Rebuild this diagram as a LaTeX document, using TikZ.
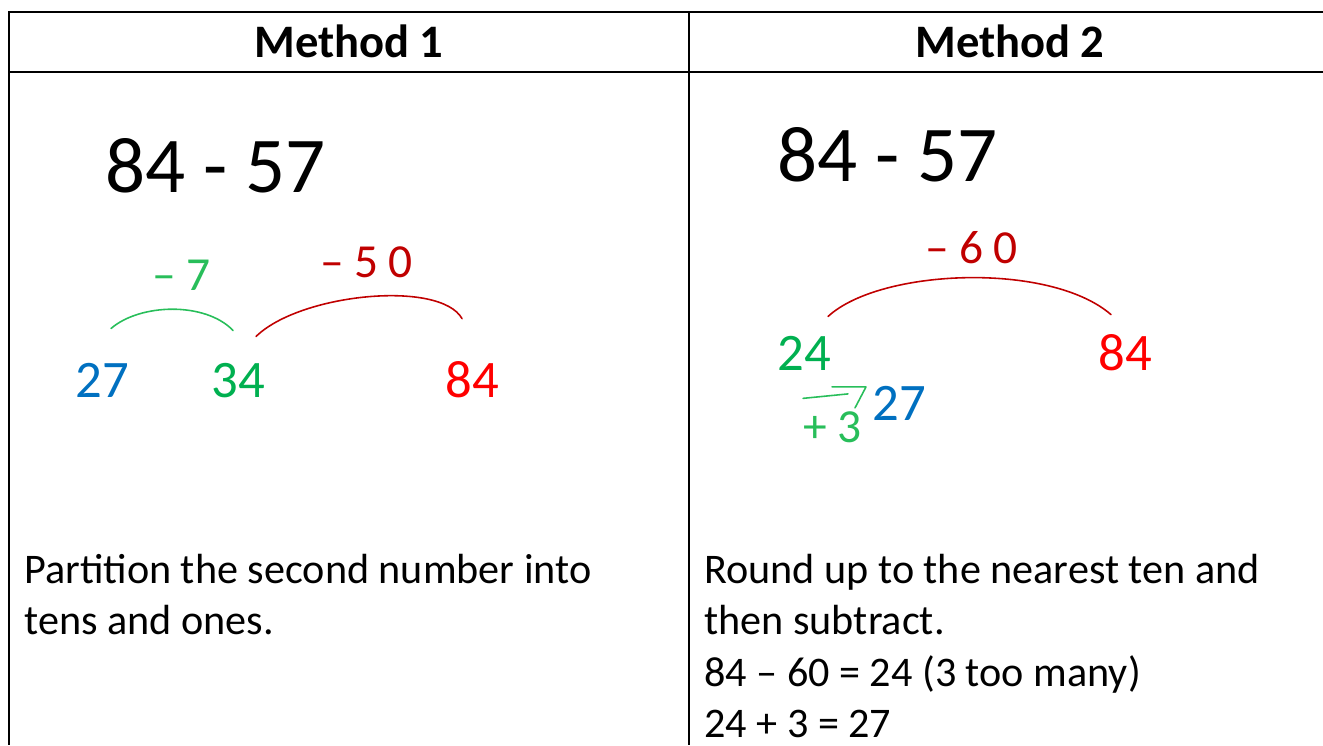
\documentclass[tikz,border=0pt]{standalone}
\usepackage{fontspec}
\setmainfont{Carlito}
\newfontfamily\handfont[LetterSpace=22]{Carlito}
\usetikzlibrary{calc}

\definecolor{numblue}{RGB}{0,112,192}
\definecolor{numgreen}{RGB}{0,176,80}
\definecolor{numred}{RGB}{255,0,0}
\definecolor{penred}{RGB}{192,0,0}
\definecolor{pengreen}{RGB}{40,190,90}

\begin{document}
\begin{tikzpicture}[x=0.02cm, y=-0.02cm]
  \tikzset{
    tableline/.style={line width=1.4pt},
    head/.style={anchor=base, inner sep=0pt, font=\fontsize{26.5}{30}\bfseries},
    sumtext/.style={anchor=base west, inner sep=0pt, font=\fontsize{45}{50}\selectfont},
    num/.style={anchor=base west, inner sep=0pt, font=\fontsize{30}{34}\selectfont},
    hand/.style={anchor=base west, inner sep=0pt, font=\fontsize{27}{30}\handfont},
    penline/.style={line width=0.9pt, line cap=round, line join=round},
    body/.style={anchor=base west, inner sep=0pt, font=\fontsize{24}{29}\selectfont},
  }
  \useasboundingbox (0,0) rectangle (1323,745);

  % table
  \draw[tableline] (1323,12) -- (9,12) -- (9,745);
  \draw[tableline] (9,72) -- (1323,72);
  \draw[tableline] (689,12) -- (689,745);

  % titles
  \node[head] (hdrA) at (349,57) {Method 1};
  \node[head] (hdrB) at (1010,57) {Method 2};

  % sums
  \node[sumtext] (sumA) at (105,192) {84 - 57};
  \node[sumtext] (sumB) at (777,181) {84 - 57};

  % method 1: number line
  \node[num, text=numblue] (a27) at (75,397) {27};
  \node[num, text=numgreen] (a34) at (211,397) {34};
  \node[num, text=numred] (a84) at (445,397) {84};

  \draw[penline, pengreen] ($(a27.north)+(9,-34)$)
    .. controls +(29,-25) and +(-28,-29) .. ($(a34.north)+(-5,-32)$);
  \draw[penline, penred] ($(a34.north)+(18,-26)$)
    .. controls +(44,-43) and +(-22,-39) .. ($(a84.north)+(-10,-42)$);

  \node[hand, text=pengreen] (jmpA) at (152,290) {–7};
  \node[hand, text=penred] (jmpB) at (320,277) {–50};

  % method 2: number line
  \node[num, text=numgreen] (b24) at (777,370) {24};
  \node[num, text=numred] (b84) at (1098,370) {84};
  \node[num, text=numblue] (b27) at (872,420) {27};

  \draw[penline, penred] ($(b24.north)+(24,-19)$)
    .. controls +(52,-48) and +(-61,-53) .. ($(b84.north)+(-14,-19)$);
  \node[hand, text=penred] (jmpC) at (925,263) {–60};

  % small step on to 27
  \coordinate (stepS) at ($(b24.south)+(-1,28)$);
  \coordinate (stepE) at ($(b27.west)+(-24,-9)$);
  \draw[penline, pengreen] (stepS) -- (stepE);
  \draw[penline, pengreen] ($(b27.west)+(-40,-16)$) -- ($(b27.west)+(-6,-16)$)
    -- ($(b27.west)+(-17,5)$);
  \node[hand, text=pengreen] (jmpD) at (803,442) {+3};

  % descriptions
  \node[body] (txtA1) at (24,583) {Partition the second number into};
  \node[body] (txtA2) at (24,634) {tens and ones.};
  \node[body] (txtB1) at (704,583) {Round up to the nearest ten and};
  \node[body] (txtB2) at (704,634) {then subtract.};
  \node[body] (txtB3) at (704,686) {84 – 60 = 24 (3 too many)};
  \node[body] (txtB4) at (704,737) {24 + 3 = 27};
\end{tikzpicture}
\end{document}
